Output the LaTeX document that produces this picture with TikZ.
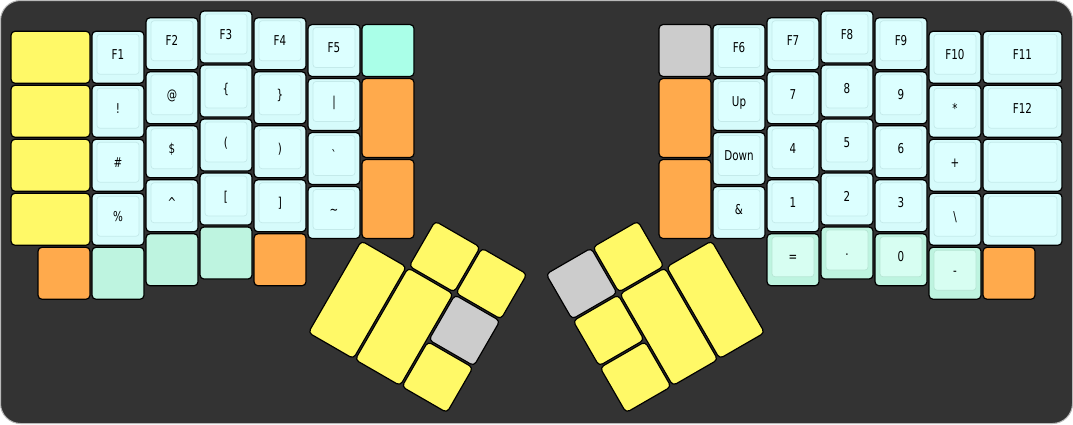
\documentclass[tikz,border=0pt]{standalone}
\usepackage{fontspec}
\newfontfamily\lbl{DejaVu Sans}
\definecolor{kbg}{HTML}{333333}
\definecolor{kyel}{HTML}{FFF967}
\definecolor{kora}{HTML}{FFAA4C}
\definecolor{kcya}{HTML}{D6FBFB}
\definecolor{capin}{HTML}{DCFFFF}
\definecolor{capln}{HTML}{C4EAEA}
\definecolor{kmnt}{HTML}{BEF4E0}
\definecolor{mntin}{HTML}{D7FEF2}
\definecolor{mntln}{HTML}{B6E6D4}
\definecolor{ktea}{HTML}{AAFFE8}
\definecolor{kgra}{HTML}{CCCCCC}
\begin{document}
\begin{tikzpicture}[x=54pt,y=-54pt,
  key/.style={draw=black,line width=1.2pt,rounded corners=4pt,inner sep=0pt,minimum width=52pt,minimum height=52pt},
  wide/.style={minimum width=79pt},tall/.style={minimum height=79pt},thumb/.style={minimum height=106pt},
  face/.style={draw=capln,fill=capin,line width=.7pt,rounded corners=3pt,inner sep=0pt,minimum width=42pt,minimum height=40pt,
    text height=10pt,text depth=0pt,font=\lbl\fontsize{13.6}{14}\selectfont},
  wface/.style={face,minimum width=69pt},mface/.style={face,draw=mntln,fill=mntin},
  yel/.style={fill=kyel},ora/.style={fill=kora},cya/.style={fill=kcya},mnt/.style={fill=kmnt},tea/.style={fill=ktea},gra/.style={fill=kgra}]
\useasboundingbox (-10pt,10pt) rectangle (1063pt,-414pt);
\fill[kbg,draw=gray!55,line width=1pt,rounded corners=20pt] (-9.5pt,9.5pt) rectangle (1062.5pt,-413.5pt);
% left hand
\foreach \r in {0,1,2,3} \node[key,wide,yel] (l0-\r) at (.75,.875+\r) {};
\node[key,ora] (l0-4) at (1,4.875) {};
\foreach \lab [count=\r from 0] in {F1,!,\#,\%} {\node[key,cya] (l1-\r) at (2,.875+\r) {}; \node[face] (l1-\r t) at ([yshift=3pt]l1-\r) {\scalebox{.76}[1]{\lab}};}
\foreach \lab [count=\r from 0] in {F2,@,\$,\textasciicircum} {\node[key,cya] (l2-\r) at (3,.625+\r) {}; \node[face] (l2-\r t) at ([yshift=3pt]l2-\r) {\scalebox{.76}[1]{\lab}};}
\foreach \lab [count=\r from 0] in {F3,\{,{(},{[}} {\node[key,cya] (l3-\r) at (4,.5+\r) {}; \node[face] (l3-\r t) at ([yshift=3pt]l3-\r) {\scalebox{.76}[1]{\lab}};}
\foreach \lab [count=\r from 0] in {F4,\},{)},{]}} {\node[key,cya] (l4-\r) at (5,.625+\r) {}; \node[face] (l4-\r t) at ([yshift=3pt]l4-\r) {\scalebox{.76}[1]{\lab}};}
\foreach \lab [count=\r from 0] in {F5,{|},\textasciigrave,\textasciitilde} {\node[key,cya] (l5-\r) at (6,.75+\r) {}; \node[face] (l5-\r t) at ([yshift=3pt]l5-\r) {\scalebox{.76}[1]{\lab}};}
\node[key,mnt] (l1-4) at (2,4.875) {};
\node[key,mnt] (l2-4) at (3,4.625) {};
\node[key,mnt] (l3-4) at (4,4.5) {};
\node[key,ora] (l4-4) at (5,4.625) {};
\node[key,tea] (l6-0) at (7,.75) {};
\node[key,tall,ora] (l6-1) at (7,2) {};
\node[key,tall,ora] (l6-2) at (7,3.5) {};
% right hand
\node[key,gra] (r6-0) at (12.5,.75) {};
\node[key,tall,ora] (r6-1) at (12.5,2) {};
\node[key,tall,ora] (r6-2) at (12.5,3.5) {};
\foreach \lab [count=\r from 0] in {F6,Up,Down,\&} {\node[key,cya] (r5-\r) at (13.5,.75+\r) {}; \node[face] (r5-\r t) at ([yshift=3pt]r5-\r) {\scalebox{.76}[1]{\lab}};}
\foreach \lab [count=\r from 0] in {F7,7,4,1} {\node[key,cya] (r4-\r) at (14.5,.625+\r) {}; \node[face] (r4-\r t) at ([yshift=3pt]r4-\r) {\scalebox{.76}[1]{\lab}};}
\foreach \lab [count=\r from 0] in {F8,8,5,2} {\node[key,cya] (r3-\r) at (15.5,.5+\r) {}; \node[face] (r3-\r t) at ([yshift=3pt]r3-\r) {\scalebox{.76}[1]{\lab}};}
\foreach \lab [count=\r from 0] in {F9,9,6,3} {\node[key,cya] (r2-\r) at (16.5,.625+\r) {}; \node[face] (r2-\r t) at ([yshift=3pt]r2-\r) {\scalebox{.76}[1]{\lab}};}
\foreach \lab [count=\r from 0] in {F10,*,+,\textbackslash} {\node[key,cya] (r1-\r) at (17.5,.875+\r) {}; \node[face] (r1-\r t) at ([yshift=3pt]r1-\r) {\scalebox{.76}[1]{\lab}};}
\foreach \lab [count=\r from 0] in {F11,F12,{},{}} {\node[key,wide,cya] (r0-\r) at (18.75,.875+\r) {}; \node[wface] (r0-\r t) at ([yshift=3pt]r0-\r) {\scalebox{.76}[1]{\lab}};}
\node[key,mnt] (r4-4) at (14.5,4.625) {};
\node[mface] (r4-4 t) at ([yshift=3pt]r4-4) {\scalebox{.76}[1]{=}};
\node[key,mnt] (r3-4) at (15.5,4.5) {};
\node[mface] (r3-4 t) at ([yshift=3pt]r3-4) {\scalebox{.76}[1]{.}};
\node[key,mnt] (r2-4) at (16.5,4.625) {};
\node[mface] (r2-4 t) at ([yshift=3pt]r2-4) {\scalebox{.76}[1]{0}};
\node[key,mnt] (r1-4) at (17.5,4.875) {};
\node[mface] (r1-4 t) at ([yshift=3pt]r1-4) {\scalebox{.76}[1]{-}};
\node[key,ora] (r0-4) at (18.5,4.875) {};
% thumbs
\begin{scope}[shift={(6.5,4.25)},rotate=-30,transform shape]
  \node[key,yel] (lt1) at (1.5,-.5) {};
  \node[key,yel] (lt2) at (2.5,-.5) {};
  \node[key,thumb,yel] (lt3) at (.5,1) {};
  \node[key,thumb,yel] (lt4) at (1.5,1) {};
  \node[key,gra] (lt5) at (2.5,.5) {};
  \node[key,yel] (lt6) at (2.5,1.5) {};
\end{scope}
\begin{scope}[shift={(13,4.25)},rotate=30,transform shape]
  \node[key,gra] (rt1) at (-2.5,-.5) {};
  \node[key,yel] (rt2) at (-1.5,-.5) {};
  \node[key,yel] (rt3) at (-2.5,.5) {};
  \node[key,thumb,yel] (rt4) at (-1.5,1) {};
  \node[key,thumb,yel] (rt5) at (-.5,1) {};
  \node[key,yel] (rt6) at (-2.5,1.5) {};
\end{scope}
\end{tikzpicture}
\end{document}
